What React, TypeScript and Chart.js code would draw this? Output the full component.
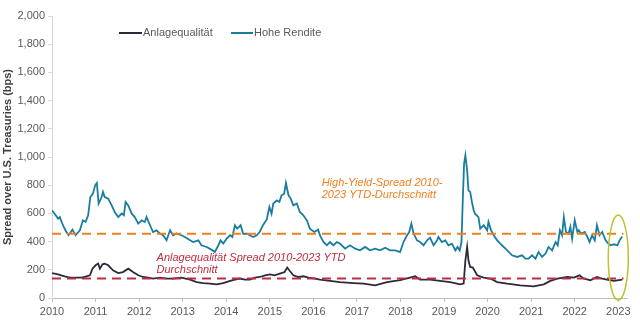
import React, { useEffect, useRef } from "react";
import { Chart, registerables } from "chart.js";

Chart.register(...registerables);

// ---- data ----
const yearTicks = [2010, 2011, 2012, 2013, 2014, 2015, 2016, 2017, 2018, 2019, 2020, 2021, 2022, 2023];

const hyYears = [
  2010.00, 2010.06, 2010.14, 2010.18, 2010.25, 2010.33, 2010.38, 2010.47, 2010.54, 2010.64,
  2010.71, 2010.77, 2010.83, 2010.88, 2010.94, 2010.99, 2011.03, 2011.07, 2011.14, 2011.17,
  2011.21, 2011.29, 2011.37, 2011.44, 2011.52, 2011.60, 2011.65, 2011.69, 2011.75, 2011.83,
  2011.90, 2011.98, 2012.06, 2012.13, 2012.17, 2012.25, 2012.32, 2012.40, 2012.48, 2012.55,
  2012.63, 2012.71, 2012.78, 2012.86, 2012.97, 2013.05, 2013.17, 2013.24, 2013.36, 2013.43,
  2013.55, 2013.66, 2013.74, 2013.82, 2013.87, 2013.93, 2014.01, 2014.09, 2014.14, 2014.20,
  2014.25, 2014.33, 2014.39, 2014.47, 2014.54, 2014.62, 2014.70, 2014.77, 2014.85, 2014.93,
  2014.99, 2015.04, 2015.08, 2015.16, 2015.22, 2015.27, 2015.33, 2015.37, 2015.43, 2015.48,
  2015.54, 2015.62, 2015.69, 2015.77, 2015.85, 2015.92, 2016.02, 2016.11, 2016.15, 2016.23,
  2016.31, 2016.38, 2016.46, 2016.54, 2016.61, 2016.73, 2016.84, 2016.96, 2017.07, 2017.19,
  2017.30, 2017.42, 2017.53, 2017.65, 2017.76, 2017.88, 2017.99, 2018.07, 2018.15, 2018.20,
  2018.25, 2018.30, 2018.38, 2018.45, 2018.53, 2018.61, 2018.68, 2018.76, 2018.84, 2018.87,
  2018.95, 2019.03, 2019.10, 2019.18, 2019.26, 2019.31, 2019.36, 2019.40, 2019.43, 2019.46,
  2019.49, 2019.53, 2019.56, 2019.60, 2019.64, 2019.68, 2019.71, 2019.79, 2019.83, 2019.91,
  2019.99, 2020.02, 2020.08, 2020.14, 2020.22, 2020.33, 2020.45, 2020.56, 2020.68, 2020.79,
  2020.87, 2020.94, 2021.02, 2021.10, 2021.17, 2021.25, 2021.33, 2021.40, 2021.48, 2021.56,
  2021.61, 2021.66, 2021.71, 2021.75, 2021.80, 2021.86, 2021.90, 2021.94, 2022.00, 2022.06,
  2022.09, 2022.15, 2022.23, 2022.29, 2022.34, 2022.40, 2022.46, 2022.51, 2022.57, 2022.63,
  2022.71, 2022.77, 2022.82, 2022.90, 2022.98, 2023.03, 2023.09,
];
const hyValues = [
  622, 598, 563, 574, 516, 468, 445, 485, 445, 480,
  551, 539, 586, 716, 740, 799, 816, 670, 716, 752,
  716, 705, 657, 610, 574, 599, 587, 681, 657, 598,
  574, 528, 551, 539, 574, 516, 468, 480, 457, 445,
  409, 480, 445, 457, 445, 433, 409, 397, 409, 374,
  362, 343, 326, 374, 409, 386, 421, 445, 433, 516,
  492, 516, 455, 457, 445, 433, 445, 470, 520, 557,
  645, 598, 670, 693, 681, 728, 740, 816, 728, 705,
  657, 670, 610, 587, 551, 492, 468, 485, 445, 397,
  374, 397, 374, 397, 386, 350, 374, 350, 338, 362,
  338, 350, 338, 357, 338, 338, 326, 397, 445, 468,
  528, 457, 409, 397, 374, 409, 428, 374, 409, 433,
  397, 409, 374, 386, 338, 362, 338, 397, 693, 953,
  1012, 906, 764, 752, 681, 622, 598, 574, 492, 516,
  480, 539, 480, 445, 409, 374, 338, 303, 291, 303,
  279, 279, 303, 279, 326, 291, 315, 362, 338, 397,
  374, 480, 445, 574, 468, 457, 504, 421, 551, 468,
  480, 457, 468, 433, 397, 445, 409, 516, 445, 468,
  409, 386, 374, 381, 374, 409, 437,
];

const igYears = [
  2010.00, 2010.14, 2010.29, 2010.41, 2010.56, 2010.68, 2010.79, 2010.87, 2010.93, 2011.00,
  2011.06, 2011.10, 2011.16, 2011.21, 2011.29, 2011.40, 2011.52, 2011.63, 2011.75, 2011.86,
  2011.98, 2012.09, 2012.21, 2012.32, 2012.48, 2012.63, 2012.78, 2012.97, 2013.17, 2013.32,
  2013.47, 2013.63, 2013.78, 2013.93, 2014.09, 2014.20, 2014.31, 2014.43, 2014.54, 2014.66,
  2014.77, 2014.89, 2015.00, 2015.11, 2015.23, 2015.34, 2015.40, 2015.46, 2015.54, 2015.66,
  2015.77, 2015.89, 2016.04, 2016.15, 2016.38, 2016.61, 2016.92, 2017.15, 2017.42, 2017.69,
  2017.99, 2018.22, 2018.34, 2018.45, 2018.68, 2018.91, 2019.14, 2019.37, 2019.45, 2019.49,
  2019.53, 2019.56, 2019.60, 2019.66, 2019.76, 2019.91, 2020.06, 2020.22, 2020.45, 2020.75,
  2021.06, 2021.29, 2021.44, 2021.60, 2021.83, 2021.98, 2022.11, 2022.20, 2022.36, 2022.51,
  2022.63, 2022.74, 2022.90, 2023.09,
];
const igValues = [
  177, 168, 154, 145, 145, 145, 154, 161, 208, 232,
  244, 208, 239, 244, 232, 196, 177, 184, 208, 184,
  161, 149, 145, 138, 145, 138, 138, 145, 130, 113,
  106, 102, 97, 106, 121, 130, 138, 130, 130, 145,
  149, 161, 168, 161, 173, 184, 216, 191, 161, 149,
  154, 145, 138, 130, 121, 113, 106, 102, 90, 113,
  126, 145, 154, 130, 130, 121, 113, 97, 102, 267,
  362, 267, 220, 216, 161, 145, 138, 113, 102, 90,
  83, 97, 121, 138, 149, 145, 161, 138, 126, 149,
  138, 130, 121, 130,
];

const avgYears = [2010, 2023.12];
const hyAverage = [455, 455];
const igAverage = [138, 138];

const legendLabels = ["Anlagequalität", "Hohe Rendite"];
const yTitle = "Spread over U.S. Treasuries (bps)";
const hyNote = ["High-Yield-Spread 2010-", "2023 YTD-Durchschnitt"];
const igNote = ["Anlagequalität Spread 2010-2023 YTD", "Durchschnitt"];

const COL_IG = "#2B2A3A";
const COL_HY = "#1A7DA0";
const COL_ORANGE = "#F07F1E";
const COL_RED = "#C12C40";
const COL_ELLIPSE = "#BDC22E";
const FONT = "'Liberation Sans', Arial, sans-serif";

const toXY = (xs: number[], ys: number[]) => xs.map((x, i) => ({ x, y: ys[i] }));

const overlay = {
  id: "overlay",
  afterDraw(chart: any) {
    const ctx = chart.ctx;
    const xs = chart.scales.x;
    const ys = chart.scales.y;
    ctx.save();
    // annotations
    ctx.font = `italic 11px ${FONT}`;
    ctx.textBaseline = "middle";
    ctx.textAlign = "left";
    ctx.fillStyle = COL_ORANGE;
    ctx.fillText(hyNote[0], xs.getPixelForValue(2016.19), ys.getPixelForValue(818));
    ctx.fillText(hyNote[1], xs.getPixelForValue(2016.19), ys.getPixelForValue(733));
    ctx.fillStyle = COL_RED;
    ctx.fillText(igNote[0], xs.getPixelForValue(2012.4), ys.getPixelForValue(286));
    ctx.fillText(igNote[1], xs.getPixelForValue(2012.4), ys.getPixelForValue(201));

    // ellipse
    const cx = xs.getPixelForValue(2023.0);
    const rx = xs.getPixelForValue(2023.23) - cx;
    const top = ys.getPixelForValue(588);
    const bot = ys.getPixelForValue(-16);
    ctx.beginPath();
    ctx.ellipse(cx, (top + bot) / 2, rx, (bot - top) / 2, 0, 0, Math.PI * 2);
    ctx.strokeStyle = COL_ELLIPSE;
    ctx.lineWidth = 1.5;
    ctx.stroke();

    // legend
    ctx.font = `11px ${FONT}`;
    ctx.fillStyle = "#595959";
    ctx.lineWidth = 2;
    const ly = 33;
    ctx.strokeStyle = COL_IG;
    ctx.beginPath();
    ctx.moveTo(119, ly);
    ctx.lineTo(142, ly);
    ctx.stroke();
    ctx.fillText(legendLabels[0], 143, ly);
    ctx.strokeStyle = COL_HY;
    ctx.beginPath();
    ctx.moveTo(231, ly);
    ctx.lineTo(253, ly);
    ctx.stroke();
    ctx.fillText(legendLabels[1], 254, ly);
    ctx.restore();
  },
};

export default function App() {
  const ref = useRef<HTMLCanvasElement | null>(null);
  useEffect(() => {
    if (!ref.current) return;
    const chart = new Chart(ref.current, {
      type: "line",
      data: {
        datasets: [
          {
            label: "avgHY",
            data: toXY(avgYears, hyAverage),
            borderColor: COL_ORANGE,
            borderWidth: 2,
            borderDash: [9, 6],
            pointRadius: 0,
            order: 0,
          },
          {
            label: "avgIG",
            data: toXY(avgYears, igAverage),
            borderColor: COL_RED,
            borderWidth: 2,
            borderDash: [9, 6],
            pointRadius: 0,
            order: 0,
          },
          {
            label: legendLabels[0],
            data: toXY(igYears, igValues),
            borderColor: COL_IG,
            borderWidth: 1.8,
            pointRadius: 0,
            tension: 0,
            order: 2,
          },
          {
            label: legendLabels[1],
            data: toXY(hyYears, hyValues),
            borderColor: COL_HY,
            borderWidth: 1.8,
            pointRadius: 0,
            tension: 0,
            order: 1,
          },
        ],
      },
      options: {
        animation: false,
        responsive: true,
        maintainAspectRatio: false,
        layout: { padding: { top: 16, right: 13, left: 0, bottom: 0 } },
        plugins: { legend: { display: false }, tooltip: { enabled: false } },
        scales: {
          x: {
            type: "linear",
            min: 2010,
            max: 2023.2,
            afterBuildTicks: (s: any) => {
              s.ticks = yearTicks.map((v) => ({ value: v }));
            },
            afterFit: (s: any) => {
              s.height = 34;
            },
            ticks: {
              callback: (v: any) => String(v),
              color: "#595959",
              font: { family: FONT, size: 11 },
              padding: 3,
              maxRotation: 0,
              autoSkip: false,
            },
            grid: {
              display: true,
              drawOnChartArea: false,
              drawTicks: true,
              tickLength: 4,
              color: "#BFBFBF",
            },
            border: { display: true, color: "#BFBFBF", width: 1 },
          },
          y: {
            min: 0,
            max: 2000,
            afterFit: (s: any) => {
              s.width = 52;
            },
            ticks: {
              stepSize: 200,
              callback: (v: any) => Number(v).toLocaleString("en-US"),
              color: "#595959",
              font: { family: FONT, size: 11 },
              padding: 3,
            },
            grid: {
              display: true,
              drawOnChartArea: false,
              drawTicks: true,
              tickLength: 4,
              color: "#D9D9D9",
            },
            border: { display: true, color: "#D9D9D9", width: 1 },
            title: {
              display: true,
              text: yTitle,
              color: "#404040",
              font: { family: FONT, size: 11, weight: "bold" },
              padding: { top: 1, bottom: 0 },
            },
          },
        },
      },
      plugins: [overlay],
    });
    return () => chart.destroy();
  }, []);
  return (
    <div style={{ position: "absolute", left: 0, top: 0, width: 640, height: 332 }}>
      <canvas ref={ref} />
    </div>
  );
}
